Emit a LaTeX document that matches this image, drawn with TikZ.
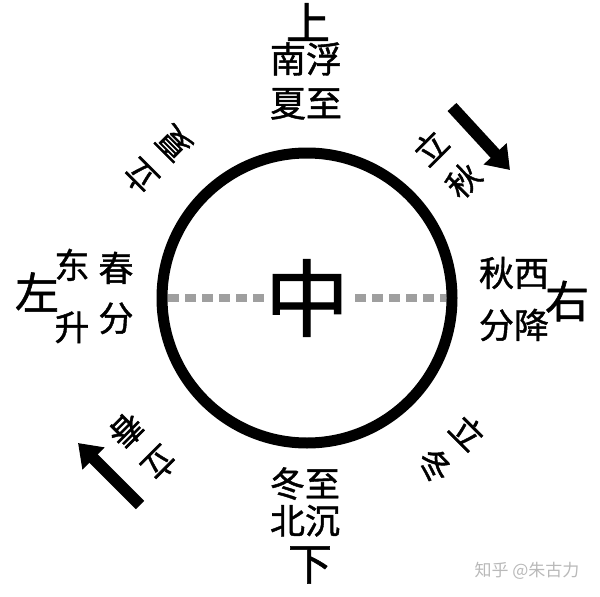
\documentclass[tikz,border=0pt]{standalone}
\usepackage{fontspec}
\newfontfamily\cjk{Noto Sans CJK SC}[FakeBold=1.2]
\newfontfamily\cjkthin{Noto Sans CJK SC}
\usetikzlibrary{arrows.meta}

\begin{document}
\begin{tikzpicture}[x=1pt,y=-1pt,
    zi/.style={font={\cjk\fontsize{35}{#1}\selectfont}, align=center, inner sep=0pt},
    zi/.default=44,
    big/.style={font={\cjk\fontsize{44}{44}\selectfont}, inner sep=0pt},
    jie/.style={font={\cjk\fontsize{33}{46}\selectfont}, align=center, inner sep=0pt},
    fat/.style={line width=12pt, -{Triangle[length=22pt,width=30pt]}}]
        \def\r{145}
        \useasboundingbox (0,0) rectangle (600,597);

        % the ring and the middle line
        \node (ring) [circle, draw, line width=11pt, minimum size=290pt, outer sep=0pt] at (307,298) {};
        \draw[gray!75, line width=8pt, dash pattern=on 11pt off 6pt, shorten <=6pt, shorten >=6pt] (ring.west) -- (ring.east);
        \node (zhong) [font={\cjk\fontsize{84}{84}\selectfont}, fill=white, inner sep=1pt] at (307,298) {中};

        % top and bottom
        \node (shang) [big] at (308,22) {上};
        \node (nanfu) [zi, font={\cjk\fontsize{36}{44}\selectfont}] at (306,81) {南浮\\夏至};
        \node (dongzhi) [zi=37] at (305,502) {冬至\\北沉};
        \node (xia) [big] at (310,565) {下};

        % left and right
        \node (zuo) [big] at (37,292) {左};
        \node (dongsheng) [zi=62] at (72,296) {东\\升};
        \node (chunfen) [zi=50] at (116,293) {春\\分};
        \node (you) [big] at (567,301) {右};
        \node (xijiang) [zi=52] at (514,299) {秋西\\分降};

        % the four li- terms, tilted
        \node (lixia) [jie, rotate=135] at (157,160) {立\\夏};
        \node (liqiu) [jie, rotate=45] at (447,164) {立\\秋};
        \node (lidong) [jie, rotate=-45] at (451,449) {立\\冬};
        \node (lichun) [jie, rotate=-135] at (143,447) {立\\春};

        % turning arrows
        \coordinate (qiu0) at (452,107);
        \coordinate (qiu1) at (510,170);
        \draw[fat] (qiu0) -- (qiu1);
        \coordinate (chun0) at (140,505);
        \coordinate (chun1) at (78,443);
        \draw[fat] (chun0) -- (chun1);

        \node (zhihu) [font={\cjkthin\fontsize{17}{17}\selectfont}, text=gray!55] at (527,571) {知乎 @朱古力};
    \end{tikzpicture}
\end{document}
